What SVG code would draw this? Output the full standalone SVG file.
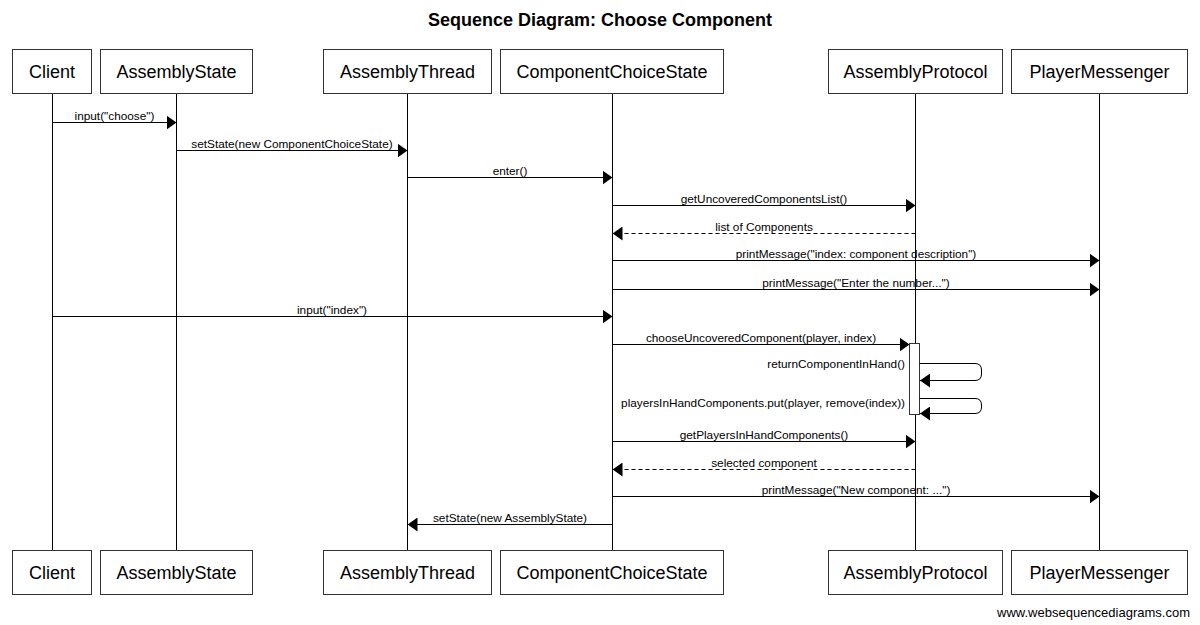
<svg xmlns="http://www.w3.org/2000/svg" width="1200" height="625" viewBox="0 0 1200 625">
<style>
text{font-family:"Liberation Sans",Arial,sans-serif;fill:#000}
.title{font-size:18px;font-weight:bold;text-anchor:middle}
.box{fill:#fff;stroke:#333;stroke-width:1}
.name{font-size:18px;text-anchor:middle}
.life{stroke:#000;stroke-width:1}
.msg{stroke:#000;stroke-width:1;fill:none}
.dash{stroke-dasharray:4,3}
.lbl{font-size:11.8px;text-anchor:middle}
.lblr{font-size:11.8px;text-anchor:end}
.foot{font-size:13px;text-anchor:end}
</style>
<defs>
<marker id="ah" markerWidth="10" markerHeight="14" refX="10" refY="7" orient="auto" markerUnits="userSpaceOnUse">
<path d="M0,0 L10,7 L0,14 Z" fill="#000"/>
</marker>
</defs>
<rect width="1200" height="625" fill="#fff"/>
<text class="title" x="600" y="26">Sequence Diagram: Choose Component</text>

<g id="lifelines">
<line class="life" x1="52.5" y1="94" x2="52.5" y2="551"/>
<line class="life" x1="176.5" y1="94" x2="176.5" y2="551"/>
<line class="life" x1="407.5" y1="94" x2="407.5" y2="551"/>
<line class="life" x1="612.5" y1="94" x2="612.5" y2="551"/>
<line class="life" x1="915.5" y1="94" x2="915.5" y2="551"/>
<line class="life" x1="1099.5" y1="94" x2="1099.5" y2="551"/>
</g>

<g id="activation">
<rect class="box" x="909.5" y="343.5" width="10" height="71"/>
</g>

<g id="node-client">
<rect class="box" x="12.5" y="49.5" width="79" height="44"/>
<text class="name" x="52" y="78">Client</text>
<rect class="box" x="12.5" y="550.5" width="79" height="44"/>
<text class="name" x="52" y="579">Client</text>
</g>
<g id="node-assemblystate">
<rect class="box" x="100.5" y="49.5" width="152" height="44"/>
<text class="name" x="176.5" y="78">AssemblyState</text>
<rect class="box" x="100.5" y="550.5" width="152" height="44"/>
<text class="name" x="176.5" y="579">AssemblyState</text>
</g>
<g id="node-assemblythread">
<rect class="box" x="323.5" y="49.5" width="168" height="44"/>
<text class="name" x="407.5" y="78">AssemblyThread</text>
<rect class="box" x="323.5" y="550.5" width="168" height="44"/>
<text class="name" x="407.5" y="579">AssemblyThread</text>
</g>
<g id="node-componentchoicestate">
<rect class="box" x="500.5" y="49.5" width="223" height="44"/>
<text class="name" x="612" y="78">ComponentChoiceState</text>
<rect class="box" x="500.5" y="550.5" width="223" height="44"/>
<text class="name" x="612" y="579">ComponentChoiceState</text>
</g>
<g id="node-assemblyprotocol">
<rect class="box" x="828.5" y="49.5" width="174" height="44"/>
<text class="name" x="915.5" y="78">AssemblyProtocol</text>
<rect class="box" x="828.5" y="550.5" width="174" height="44"/>
<text class="name" x="915.5" y="579">AssemblyProtocol</text>
</g>
<g id="node-playermessenger">
<rect class="box" x="1011.5" y="49.5" width="176" height="44"/>
<text class="name" x="1099.5" y="78">PlayerMessenger</text>
<rect class="box" x="1011.5" y="550.5" width="176" height="44"/>
<text class="name" x="1099.5" y="579">PlayerMessenger</text>
</g>

<g id="connectors">
<line class="msg" x1="52.5" y1="122.5" x2="176.5" y2="122.5" marker-end="url(#ah)"/>
<text class="lbl" x="114.5" y="120">input("choose")</text>

<line class="msg" x1="176.5" y1="150.5" x2="407.5" y2="150.5" marker-end="url(#ah)"/>
<text class="lbl" x="292" y="148">setState(new ComponentChoiceState)</text>

<line class="msg" x1="407.5" y1="177.5" x2="612.5" y2="177.5" marker-end="url(#ah)"/>
<text class="lbl" x="510" y="175">enter()</text>

<line class="msg" x1="612.5" y1="205.5" x2="915.5" y2="205.5" marker-end="url(#ah)"/>
<text class="lbl" x="764" y="203">getUncoveredComponentsList()</text>

<line class="msg dash" x1="915.5" y1="233.5" x2="612.5" y2="233.5" marker-end="url(#ah)"/>
<text class="lbl" x="764" y="231">list of Components</text>

<line class="msg" x1="612.5" y1="260.5" x2="1099.5" y2="260.5" marker-end="url(#ah)"/>
<text class="lbl" x="856" y="258">printMessage("index: component description")</text>

<line class="msg" x1="612.5" y1="289.5" x2="1099.5" y2="289.5" marker-end="url(#ah)"/>
<text class="lbl" x="856" y="287">printMessage("Enter the number...")</text>

<line class="msg" x1="52.5" y1="316.5" x2="612.5" y2="316.5" marker-end="url(#ah)"/>
<text class="lbl" x="332" y="314">input("index")</text>

<line class="msg" x1="612.5" y1="344.5" x2="909.5" y2="344.5" marker-end="url(#ah)"/>
<text class="lbl" x="761" y="342">chooseUncoveredComponent(player, index)</text>

<path class="msg" d="M919.5,363.5 H975 Q981.5,363.5 981.5,370 V374 Q981.5,380.5 975,380.5 H920" marker-end="url(#ah)"/>
<text class="lblr" x="905" y="368">returnComponentInHand()</text>

<path class="msg" d="M919.5,398.5 H975 Q981.5,398.5 981.5,405 V407 Q981.5,413.5 975,413.5 H920" marker-end="url(#ah)"/>
<text class="lblr" x="905" y="407">playersInHandComponents.put(player, remove(index))</text>

<line class="msg" x1="612.5" y1="441.5" x2="915.5" y2="441.5" marker-end="url(#ah)"/>
<text class="lbl" x="764" y="439">getPlayersInHandComponents()</text>

<line class="msg dash" x1="915.5" y1="469.5" x2="612.5" y2="469.5" marker-end="url(#ah)"/>
<text class="lbl" x="764" y="467">selected component</text>

<line class="msg" x1="612.5" y1="496.5" x2="1099.5" y2="496.5" marker-end="url(#ah)"/>
<text class="lbl" x="856" y="494">printMessage("New component: ...")</text>

<line class="msg" x1="612.5" y1="524.5" x2="407.5" y2="524.5" marker-end="url(#ah)"/>
<text class="lbl" x="510" y="522">setState(new AssemblyState)</text>
</g>

<text class="foot" x="1190" y="617">www.websequencediagrams.com</text>
</svg>
